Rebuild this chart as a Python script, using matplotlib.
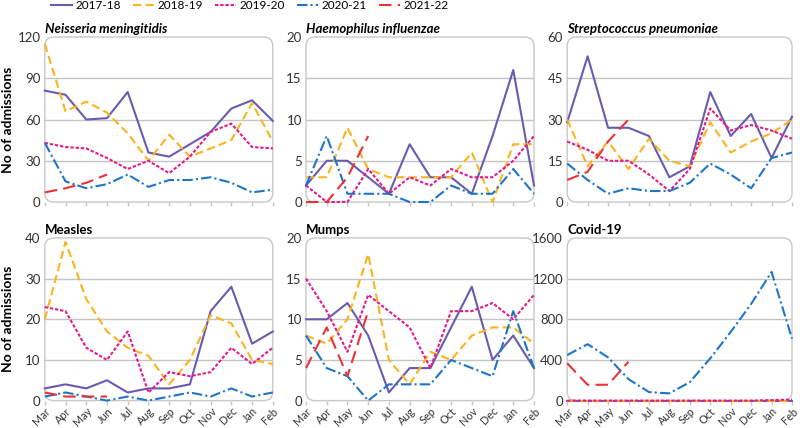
import matplotlib.pyplot as plt
from matplotlib.patches import FancyBboxPatch

plt.rcParams['font.family'] = ['Lato', 'DejaVu Sans']

months = ['Mar', 'Apr', 'May', 'Jun', 'Jul', 'Aug', 'Sep', 'Oct', 'Nov', 'Dec', 'Jan', 'Feb']
seasons = ['2017-18', '2018-19', '2019-20', '2020-21', '2021-22']

# dados (admissões por mês)
neisseria = {
    '2017-18': [81, 78, 60, 61, 80, 36, 33, 42, 51, 68, 74, 59],
    '2018-19': [115, 66, 73, 65, 50, 30, 49, 33, 39, 45, 72, 44],
    '2019-20': [43, 40, 39, 32, 24, 30, 21, 33, 51, 57, 40, 39],
    '2020-21': [43, 15, 10, 13, 20, 11, 16, 16, 18, 14, 7, 9],
    '2021-22': [7, 10, 14, 20],
}
haemophilus = {
    '2017-18': [2, 5, 5, 3, 1, 7, 3, 3, 1, 8, 16, 2],
    '2018-19': [3, 3, 9, 4, 3, 3, 3, 3, 6, 0, 7, 7],
    '2019-20': [2, 0, 0, 4, 1, 3, 2, 4, 3, 3, 5, 8],
    '2020-21': [2, 8, 1, 1, 1, 0, 0, 2, 1, 1, 4, 1],
    '2021-22': [0, 0, 3, 8],
}
strep = {
    '2017-18': [29, 53, 27, 27, 24, 9, 13, 40, 24, 32, 16, 31],
    '2018-19': [30, 13, 22, 12, 23, 15, 13, 29, 18, 22, 25, 30],
    '2019-20': [22, 19, 15, 15, 10, 4, 12, 34, 26, 28, 26, 23],
    '2020-21': [14, 8, 3, 5, 4, 4, 7, 14, 10, 5, 16, 18],
    '2021-22': [8, 11, 22, 30],
}
measles = {
    '2017-18': [3, 4, 3, 5, 2, 3, 3, 4, 22, 28, 14, 17],
    '2018-19': [20, 39, 25, 17, 13, 11, 4, 10, 21, 19, 10, 9],
    '2019-20': [23, 22, 13, 10, 17, 2, 7, 6, 7, 13, 9, 13],
    '2020-21': [1, 2, 1, 0, 1, 0, 1, 2, 1, 3, 1, 2],
    '2021-22': [2, 1, 1, 1],
}
mumps = {
    '2017-18': [10, 10, 12, 8, 1, 4, 4, 9, 14, 5, 8, 4],
    '2018-19': [8, 7, 10, 18, 5, 2, 6, 5, 8, 9, 9, 7],
    '2019-20': [15, 11, 6, 13, 11, 9, 4, 11, 11, 12, 10, 13],
    '2020-21': [8, 4, 3, 0, 2, 2, 2, 5, 4, 3, 11, 4],
    '2021-22': [4, 9, 3, 11],
}
covid = {
    '2017-18': [0, 0, 0, 0, 0, 0, 0, 0, 0, 0, 0, 0],
    '2018-19': [0, 0, 0, 0, 0, 0, 0, 0, 0, 0, 0, 0],
    '2019-20': [0, 0, 0, 0, 0, 0, 0, 0, 0, 0, 5, 10],
    '2020-21': [448, 555, 425, 211, 84, 71, 182, 416, 675, 951, 1266, 610],
    '2021-22': [367, 156, 156, 383],
}

panels = [
    ('Neisseria meningitidis', neisseria, 120, True),
    ('Haemophilus influenzae', haemophilus, 20, True),
    ('Streptococcus pneumoniae', strep, 60, True),
    ('Measles', measles, 40, False),
    ('Mumps', mumps, 20, False),
    ('Covid-19', covid, 1600, False),
]

colors = {'2017-18': '#6a5bb0', '2018-19': '#fbb31f', '2019-20': '#e5198c',
          '2020-21': '#1d76c5', '2021-22': '#ea3239'}
styles = {'2017-18': '-', '2018-19': (0, (4, 2)), '2019-20': (0, (1.6, 0.9)),
          '2020-21': (0, (5, 1.5, 1, 1.5)), '2021-22': (0, (6, 3))}

fig = plt.figure(figsize=(8, 4.28), dpi=100)
lefts = [0.056, 0.3825, 0.709]
widths = [0.285, 0.285, 0.281]
bottoms = [0.528, 0.064]
heights = [0.3855, 0.38]

for i, (title, data, ymax, italic) in enumerate(panels):
    row, col = divmod(i, 3)
    ax = fig.add_axes([lefts[col], bottoms[row], widths[col], heights[row]])
    x = list(range(12))
    for s in seasons:
        vals = data[s]
        ax.plot(x[:len(vals)], vals, color=colors[s], linestyle=styles[s],
                lw=1.5, label=s, clip_on=False, zorder=3)
    ax.set_xlim(0, 11)
    ax.set_ylim(0, ymax)
    yt = [ymax * k / 4 for k in range(5)]
    ax.set_yticks(yt)
    ax.set_yticklabels([f'{int(v)}' for v in yt])
    for v in yt[1:-1]:
        ax.axhline(v, color='#c4c4c4', lw=1, zorder=1)
    for sp in ax.spines.values():
        sp.set_visible(False)
    frame = FancyBboxPatch((0, 0), 1, 1, boxstyle='round,pad=0,rounding_size=0.04',
                           transform=ax.transAxes, facecolor='none',
                           edgecolor='#c8c8c8', lw=1, clip_on=False, zorder=2,
                           mutation_aspect=1.4)
    ax.add_patch(frame)
    ax.set_xticks(x)
    ax.tick_params(axis='x', length=3, color='#c8c8c8', width=1, direction='out', pad=0.5)
    ax.tick_params(axis='y', length=0, pad=3, labelsize=9.5, labelcolor='#333333')
    if row == 1:
        ax.set_xticklabels(months, rotation=45, ha='right', rotation_mode='anchor',
                           fontsize=7.8, color='#333333')
    else:
        ax.set_xticklabels([])
    ax.set_title(title, loc='left', fontsize=9.5, fontweight='bold',
                 fontstyle='italic' if italic else 'normal', pad=3, x=0.0)
    if col == 0:
        ax.set_ylabel('No of admissions', fontsize=10, fontweight='bold')
        ax.yaxis.set_label_coords(-0.135, 0.5)
    if i == 0:
        handles, labels = ax.get_legend_handles_labels()

fig.legend(handles, labels, loc='upper left', bbox_to_anchor=(0.05, 1.025), ncol=5,
           frameon=False, fontsize=8.5, handlelength=1.8, columnspacing=1.0,
           handletextpad=0.3)

plt.savefig('out.png', dpi=100)
